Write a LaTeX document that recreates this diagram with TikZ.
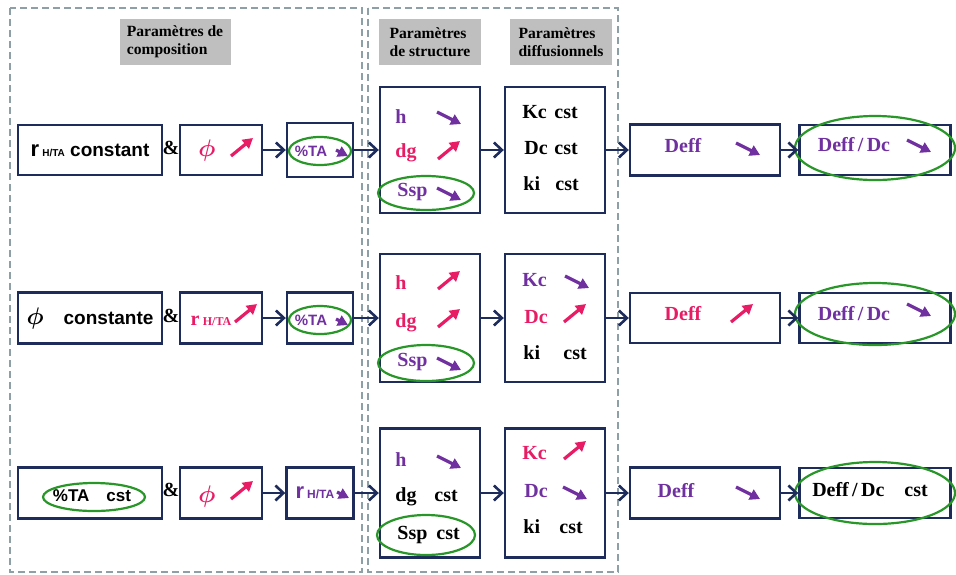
\documentclass[tikz,border=0pt]{standalone}
\usepackage{bm}
\usepackage{fontspec}
\setmainfont{Liberation Serif}
\setsansfont{Liberation Sans}
\usetikzlibrary{arrows.meta}

\definecolor{navy}{RGB}{30,44,92}
\definecolor{uppink}{RGB}{232,28,100}
\definecolor{downpurple}{RGB}{112,48,160}
\definecolor{ringgreen}{RGB}{40,150,40}
\definecolor{frameline}{RGB}{140,160,165}

\newcommand{\phisym}{{\fontsize{12}{13}\selectfont$\bm{\phi}$}}
\newcommand{\rht}[1]{r\,{\fontsize{#1}{7}\selectfont H/TA}}

\tikzset{
  box/.style={draw=navy, line width=1.2pt, inner sep=0pt},
  tag/.style={fill=black!25, align=left, inner sep=0pt, minimum height=23pt,
    font=\bfseries\fontsize{7.8}{9}\selectfont},
  txt/.style={anchor=west, inner sep=0pt},
  link/.style={navy, line width=1.4pt, -{Straight Barb[length=4pt,width=7.5pt,line width=1.3pt]}},
  frame/.style={frameline, line width=0.9pt, dash pattern=on 3.5pt off 2pt},
  ring/.style={ringgreen, line width=1.1pt},
  trend/.style={line width=1.6pt, -{Triangle[length=5pt,width=5.5pt]}},
  trendup/.pic={\draw[trend] (-11,9) -- (11,-9);},
  trenddown/.pic={\draw[trend] (-12,-6) -- (12,6);},
}

\begin{document}
\begin{tikzpicture}[x=0.5pt, y=-0.5pt, font=\bfseries\fontsize{10}{12}\selectfont]
  \useasboundingbox (0,0) rectangle (956,574);
  % Groups
  \draw[frame] (10,8) rectangle (362,572);
  \draw[frame] (368,8) rectangle (618,572);
  \node[tag, minimum width=55.5pt] (hcomp) at (175,42) {Paramètres de\\composition};
  \node[tag, minimum width=51pt] (hstruct) at (430,42) {Paramètres\\de structure};
  \node[tag, minimum width=51pt] (hdiff) at (561,42) {Paramètres\\diffusionnels};

  % Row 1
  \node[box, minimum width=72pt, minimum height=25pt] (comp1) at (90,150)
    {\sffamily\fontsize{9.5}{10}\selectfont{\fontsize{11}{12}\selectfont r}\,{\fontsize{5}{6}\selectfont H/TA} constant};
  \node (amp1) at (171,148) {\&};
  \node[box, minimum width=41pt, minimum height=25pt] (var1) at (221,150) {};
  \node[uppink] (phi1) at (207,150) {\phisym};
  \pic[color=uppink] at (242,147) {trendup};
  \node[box, minimum width=33pt, minimum height=27pt] (ta1) at (320,150) {};
  \node[downpurple, font=\sffamily\bfseries\fontsize{7.5}{9}\selectfont] (tat1) at (311,151) {\%TA};
  \pic[color=downpurple, scale=0.5] at (342,153) {trenddown};
  \draw[ring] (320,151) ellipse [x radius=31, y radius=14];
  \node[box, minimum width=50pt, minimum height=63pt] (str1) at (430,150) {};
  \node[txt, downpurple] (h1) at (395,117) {h};
  \pic[color=downpurple] at (449,118) {trenddown};
  \node[txt, uppink] (dg1) at (395,153) {dg};
  \pic[color=uppink] at (449,150) {trendup};
  \node[txt, downpurple] (ssp1) at (397,192) {Ssp};
  \pic[color=downpurple] at (449,194) {trenddown};
  \draw[ring] (426,193) ellipse [x radius=48, y radius=17];
  \node[box, minimum width=50pt, minimum height=63pt] (dif1) at (555,150) {};
  \node[txt] (kc1) at (522,112) {\makebox[16pt][l]{Kc}cst};
  \node[txt] (dc1) at (524,148) {\makebox[15pt][l]{Dc}cst};
  \node[txt] (ki1) at (523,184) {\makebox[16pt][l]{ki}cst};
  \node[box, minimum width=75pt, minimum height=25.5pt] (eff1) at (705,150) {};
  \node[downpurple] (deff1) at (683,146) {Deff};
  \pic[color=downpurple] at (748,149) {trenddown};
  \node[box, minimum width=75.5pt, minimum height=25pt] (rat1) at (875,150) {};
  \node[downpurple] (dd1) at (854,145) {Deff\,/\,Dc};
  \pic[color=downpurple] at (919,146) {trenddown};
  \draw[ring] (875,148) ellipse [x radius=80, y radius=32];
  \draw[link] (var1) -- (ta1);
  \draw[link] (ta1) -- (str1);
  \draw[link] (str1) -- (dif1);
  \draw[link] (dif1) -- (eff1);
  \draw[link] (eff1) -- (rat1);

  % Row 2
  \node[box, minimum width=72pt, minimum height=25.5pt] (comp2) at (90,318)
    {\phisym\quad{\sffamily\fontsize{9.5}{10}\selectfont constante}};
  \node (amp2) at (171,316) {\&};
  \node[box, minimum width=41pt, minimum height=25.5pt] (var2) at (221,318) {};
  \node[uppink] (rht2) at (211,321) {\rht{6}};
  \pic[color=uppink] at (246,313) {trendup};
  \node[box, minimum width=33pt, minimum height=25.5pt] (ta2) at (320,318) {};
  \node[downpurple, font=\sffamily\bfseries\fontsize{7.5}{9}\selectfont] (tat2) at (311,320) {\%TA};
  \pic[color=downpurple, scale=0.5] at (342,322) {trenddown};
  \draw[ring] (320,320) ellipse [x radius=31, y radius=14];
  \node[box, minimum width=50pt, minimum height=64pt] (str2) at (430,318) {};
  \node[txt, uppink] (h2) at (395,283) {h};
  \pic[color=uppink] at (449,280) {trendup};
  \node[txt, uppink] (dg2) at (395,323) {dg};
  \pic[color=uppink] at (449,318) {trendup};
  \node[txt, downpurple] (ssp2) at (397,362) {Ssp};
  \pic[color=downpurple] at (449,364) {trenddown};
  \draw[ring] (426,363) ellipse [x radius=48, y radius=18];
  \node[box, minimum width=50pt, minimum height=64pt] (dif2) at (555,318) {};
  \node[txt, downpurple] (kc2) at (522,280) {Kc};
  \pic[color=downpurple] at (577,282) {trenddown};
  \node[txt, uppink] (dc2) at (524,317) {Dc};
  \pic[color=uppink] at (575,313) {trendup};
  \node[txt] (ki2) at (523,353) {\makebox[20pt][l]{ki}cst};
  \node[box, minimum width=75pt, minimum height=25pt] (eff2) at (705,318) {};
  \node[uppink] (deff2) at (683,314) {Deff};
  \pic[color=uppink] at (742,313) {trendup};
  \node[box, minimum width=75.5pt, minimum height=25pt] (rat2) at (875,318) {};
  \node[downpurple] (dd2) at (854,314) {Deff\,/\,Dc};
  \pic[color=downpurple] at (919,310) {trenddown};
  \draw[ring] (875,314) ellipse [x radius=80, y radius=31];
  \draw[link] (var2) -- (ta2);
  \draw[link] (ta2) -- (str2);
  \draw[link] (str2) -- (dif2);
  \draw[link] (dif2) -- (eff2);
  \draw[link] (eff2) -- (rat2);

  % Row 3
  \node[box, minimum width=72pt, minimum height=25.5pt] (comp3) at (90,493) {};
  \node[font=\sffamily\bfseries\fontsize{8.5}{10}\selectfont] (tac3) at (92,496) {\%TA\quad cst};
  \draw[ring] (94,497) ellipse [x radius=51, y radius=14];
  \node (amp3) at (171,490) {\&};
  \node[box, minimum width=41pt, minimum height=25.5pt] (var3) at (221,493) {};
  \node[uppink] (phi3) at (207,496) {\phisym};
  \pic[color=uppink] at (242,490) {trendup};
  \node[box, minimum width=33.5pt, minimum height=25.5pt] (ta3) at (320,493) {};
  \node[downpurple, font=\sffamily\bfseries\fontsize{9}{10}\selectfont] (rht3) at (315,493) {{\fontsize{11}{12}\selectfont r}\,{\fontsize{6}{7}\selectfont H/TA}};
  \pic[color=downpurple, scale=0.5] at (343,495) {trenddown};
  \node[box, minimum width=50pt, minimum height=64.5pt] (str3) at (430,493) {};
  \node[txt, downpurple] (h3) at (395,460) {h};
  \pic[color=downpurple] at (449,462) {trenddown};
  \node[txt] (dg3) at (395,497) {\makebox[19.5pt][l]{dg}cst};
  \node[txt] (ssp3) at (397,535) {\makebox[19.5pt][l]{Ssp}cst};
  \draw[ring] (426,535) ellipse [x radius=49, y radius=20];
  \node[box, minimum width=50pt, minimum height=64.5pt] (dif3) at (555,493) {};
  \node[txt, uppink] (kc3) at (522,453) {Kc};
  \pic[color=uppink] at (575,450) {trendup};
  \node[txt, downpurple] (dc3) at (524,491) {Dc};
  \pic[color=downpurple] at (575,493) {trenddown};
  \node[txt] (ki3) at (523,527) {\makebox[18pt][l]{ki}cst};
  \node[box, minimum width=75pt, minimum height=25.5pt] (eff3) at (705,493) {};
  \node[downpurple] (deff3) at (676,491) {Deff};
  \pic[color=downpurple] at (748,493) {trenddown};
  \node[box, minimum width=75.5pt, minimum height=25pt] (rat3) at (875,493) {};
  \node (dd3) at (870,490) {Deff\,/\,Dc\quad cst};
  \draw[ring] (875,493) ellipse [x radius=80, y radius=31];
  \draw[link] (var3) -- (ta3);
  \draw[link] (ta3) -- (str3);
  \draw[link] (str3) -- (dif3);
  \draw[link] (dif3) -- (eff3);
  \draw[link] (eff3) -- (rat3);
\end{tikzpicture}
\end{document}
